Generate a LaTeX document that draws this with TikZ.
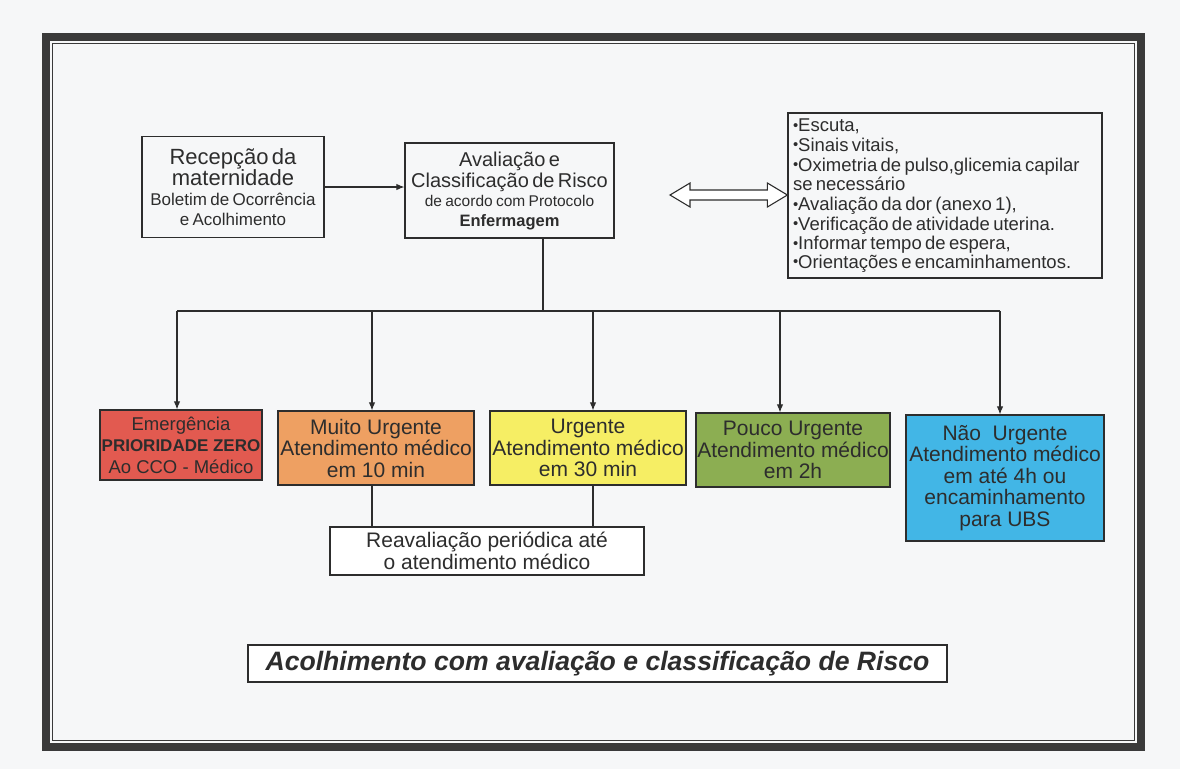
\documentclass[tikz,border=0pt]{standalone}
\usepackage{fontspec}
\setmainfont{Liberation Sans}
\usepackage{graphicx}
\usetikzlibrary{arrows.meta,calc}
\definecolor{paper}{RGB}{246,247,248}
\definecolor{ink}{RGB}{45,45,45}
\definecolor{framec}{RGB}{58,58,58}
\definecolor{cred}{RGB}{226,90,80}
\definecolor{corange}{RGB}{238,160,98}
\definecolor{cyellow}{RGB}{246,238,100}
\definecolor{cgreen}{RGB}{140,174,82}
\definecolor{cblue}{RGB}{66,182,230}
\newcommand{\bul}{\raisebox{0.08em}{\scalebox{0.8}{•}}}
\tikzset{
  box/.style={draw=ink, line width=1.2pt, inner sep=0pt, align=center, text=ink},
  conn/.style={draw=ink, line width=1.1pt},
  arr/.style={conn, -{Latex[length=8pt,width=6.5pt]}},
  big/.style={font=\fontsize{21}{21.5}\selectfont},
}
\begin{document}
\begin{tikzpicture}[x=1pt,y=-1pt]
\useasboundingbox (0,0) rectangle (1180,769);
\fill[paper] (0,0) rectangle (1180,769);
% frame
\draw[framec, line width=8pt] (46,37) rectangle (1141,747);
\draw[framec, line width=1.3pt] (52.5,43.5) rectangle (1134.5,740.5);

% top row
\node[box, minimum width=182, minimum height=101, text width=180] (rec) at (233,187)
 {{\fontsize{22}{21.5}\selectfont Recepção da\\ maternidade\par}
  {\fontsize{17}{20}\selectfont Boletim de Ocorrência\\ e Acolhimento\par}};
\node[box, minimum width=209, minimum height=95, text width=207] (aval) at (509.5,190.5)
 {{\fontsize{20}{21}\selectfont Avaliação e\\ Classificação de Risco\par}
  {\fontsize{15.5}{19.5}\selectfont de acordo com Protocolo\\ \textbf{\fontsize{16.5}{19.5}\selectfont Enfermagem}\par}};
\node[box, minimum width=314, minimum height=165, text width=304, align=left] (list) at (945,195.5)
 {\fontsize{18.5}{19.7}\selectfont
  \bul Escuta,\\
  \bul Sinais vitais,\\
  \bul Oximetria de pulso,glicemia capilar\\
  se necessário\\
  \bul Avaliação da dor (anexo 1),\\
  \bul Verificação de atividade uterina.\\
  \bul Informar tempo de espera,\\
  \bul Orientações e encaminhamentos.};

\draw[arr] (rec.east) -- (rec.east -| aval.west);

% hollow double arrow
\coordinate (dl) at (670,195);
\coordinate (dr) at (list.west |- dl);
\draw[ink, fill=white, line width=1.1pt, line join=miter]
  (dl) -- ++(20,-12) -- ++(0,7) -- ($(dr)+(-20,-5)$) -- ++(0,-7) -- (dr)
  -- ++(-20,12) -- ++(0,-7) -- ($(dl)+(20,5)$) -- ++(0,7) -- cycle;

% category boxes
\node[box, fill=cred, minimum width=162, minimum height=70,
      font=\fontsize{18.5}{21.5}\selectfont] (emerg) at (181,445)
 {Emergência\\ \textbf{\fontsize{17}{21.5}\selectfont PRIORIDADE ZERO}\\ Ao CCO - Médico};
\node[box, fill=corange, minimum width=196, minimum height=74, big] (muito) at (376,448)
 {Muito Urgente\\ Atendimento médico\\ em 10 min};
\node[box, fill=cyellow, minimum width=196, minimum height=74, big] (urg) at (588,448)
 {Urgente\\ Atendimento médico\\ em 30 min};
\node[box, fill=cgreen, minimum width=194, minimum height=74, big] (pouco) at (793,450)
 {Pouco Urgente\\ Atendimento médico\\ em 2h};
\node[box, fill=cblue, minimum width=198, minimum height=126, big] (nao) at (1005,478)
 {Não\ \ Urgente\\ Atendimento médico\\ em até 4h ou\\ encaminhamento\\ para UBS};

\node[box, fill=white, minimum width=314, minimum height=48, big] (reav) at (487,551)
 {Reavaliação periódica até\\ o atendimento médico};

\node[box, fill=white, minimum width=699, minimum height=37,
      font=\fontsize{26.6}{27}\selectfont\bfseries\itshape] (title) at (597.5,663.5)
 {Acolhimento com avaliação e classificação de Risco};

% bus
\coordinate (bus) at (543,311);
\coordinate (b1) at (177,311);
\coordinate (b2) at (372,311);
\coordinate (b3) at (593,311);
\coordinate (b4) at (780,311);
\coordinate (b5) at (1000,311);
\draw[conn] (aval.south -| bus) -- (bus);
\draw[conn] (b1) -- (b5);
\draw[arr] (b1) -- (b1 |- emerg.north);
\draw[arr] (b2) -- (b2 |- muito.north);
\draw[arr] (b3) -- (b3 |- urg.north);
\draw[arr] (b4) -- (b4 |- pouco.north);
\draw[arr] (b5) -- (b5 |- nao.north);

\draw[conn] (b2 |- muito.south) -- (b2 |- reav.north);
\draw[conn] (b3 |- urg.south) -- (b3 |- reav.north);
\end{tikzpicture}
\end{document}
